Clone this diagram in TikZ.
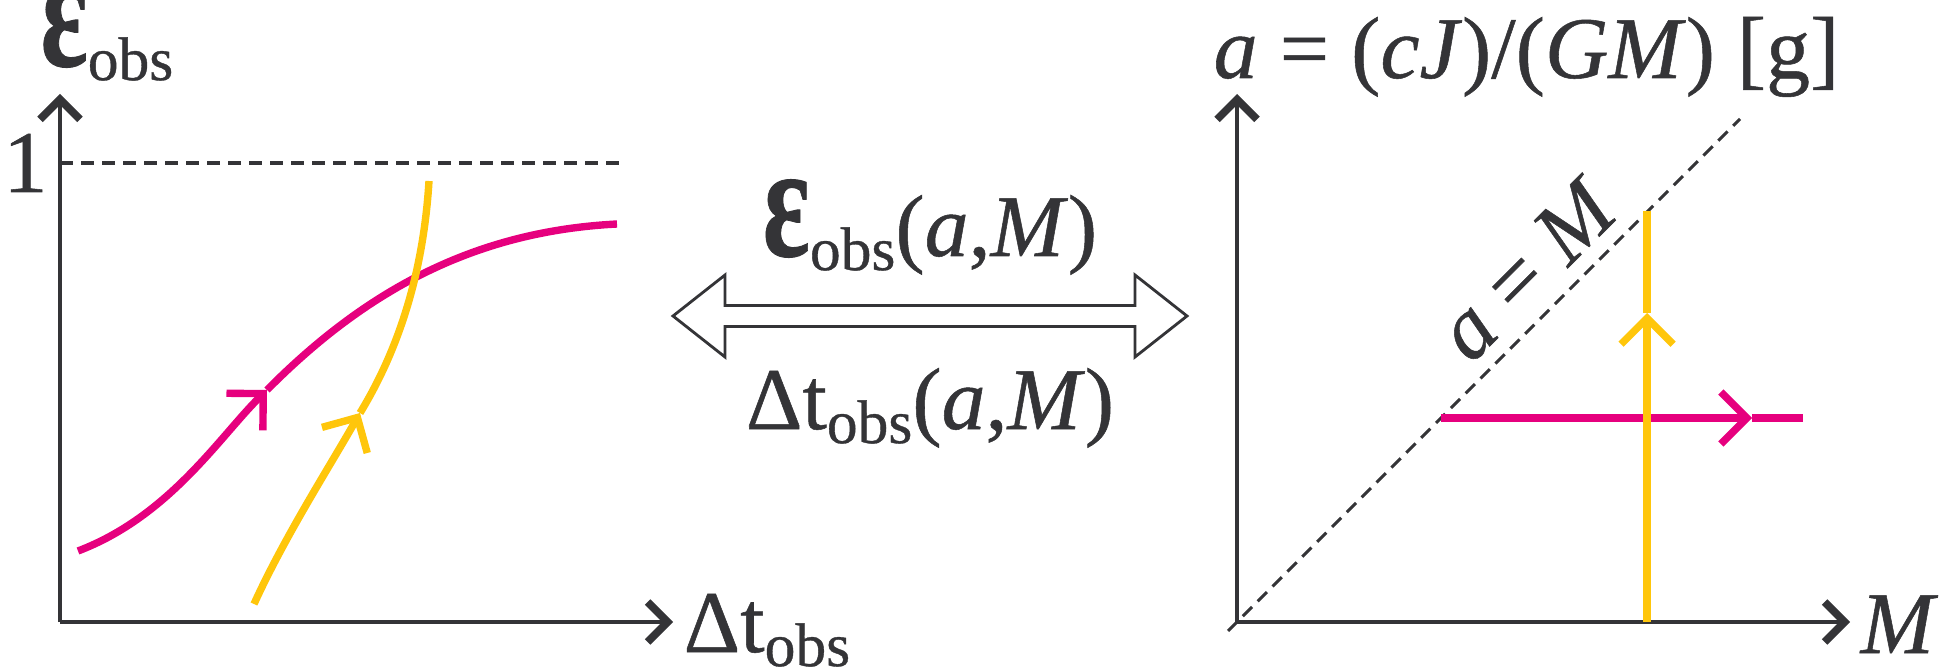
\documentclass[tikz,border=0pt]{standalone}
\usepackage{fontspec}
\setmainfont{Liberation Serif}[FakeBold=0.6]
\usetikzlibrary{arrows.meta}
\definecolor{tinta}{HTML}{343437}
\definecolor{rosa}{HTML}{E6007E}
\definecolor{oro}{HTML}{FFC60B}
\newcommand{\obs}{\raisebox{-0.16em}{\fontsize{17.5}{20}\selectfont obs}}
\newcommand{\epsi}{{\fontsize{33}{33}\selectfont\bfseries\scalebox{0.95}[1.4]{ε}}}

\tikzset{
  eje/.style={draw=tinta,line width=1pt,-{Straight Barb[length=0.2cm,width=0.4cm,line width=2.2pt]}},
  guia/.style={draw=tinta,line width=0.9pt,dash pattern=on 0.13cm off 0.08cm},
  curvarosa/.style={draw=rosa,line width=2.1pt},
  curvaoro/.style={draw=oro,line width=2.1pt},
  punta/.style={-{Straight Barb[length=0.26cm,width=0.52cm]}},
  rotulo/.style={inner sep=0pt,text=tinta,font=\fontsize{25}{30}\selectfont},
  hueca/.style={draw=tinta,line width=0.8pt,line join=miter}
}

\begin{document}
\begin{tikzpicture}[x=0.01cm,y=0.01cm]
\useasboundingbox (0,0) rectangle (1959,666);

% ejes
\coordinate (o1) at (60,44);
\coordinate (ytop1) at (60,572);
\coordinate (xend1) at (673,44);
\coordinate (o2) at (1237,44);
\coordinate (ytop2) at (1237,572);
\coordinate (xend2) at (1850,44);

\draw[guia] (60,503) coordinate (lim0) -- (626,503) coordinate (lim1);
\draw[guia] (1228,35) coordinate (d0) -- (1740,547) coordinate (d1);

\draw[eje] (o1) -- (ytop1);
\draw[eje] (o1) -- (xend1);
\draw[eje] (o2) -- (ytop2);
\draw[eje] (o2) -- (xend2);

% rotulos
\node[rotulo,anchor=base west] (epsilon) at (40,600) {\epsi\obs};
\node[rotulo,anchor=base east] (uno) at (48,474) {1};
\node[rotulo,anchor=base west] (deltat) at (683,14) {Δt\obs};
\node[rotulo,anchor=base west] (masa) at (1860,13) {\textit{M}};
\node[rotulo,anchor=base west] (espin) at (1213,588) {\textit{a} = (\textit{cJ})/(\textit{GM}) [g]};
\node[rotulo,rotate=45] (diag) at (1527,397) {\textit{a} = \textit{M}};
\node[rotulo,anchor=base] (arriba) at (930,410) {\epsi\obs(\textit{a},\textit{M})};
\node[rotulo,anchor=base] (abajo) at (930,237) {Δt\obs(\textit{a},\textit{M})};

% flecha doble
\coordinate (enlace) at (930,350);
\draw[hueca] (enlace) ++(-257,0) -- ++(52,41) -- ++(0,-30.5) -- ++(410,0) -- ++(0,30.5)
  -- ++(52,-41) -- ++(-52,-41) -- ++(0,30.5) -- ++(-410,0) -- ++(0,-30.5) -- cycle;

% curvas izquierda
\coordinate (m0) at (78,115);
\coordinate (m1) at (267,276);
\coordinate (m2) at (617,442);
\draw[curvarosa,punta] (m0) .. controls (170,150) and (220,230) .. (m1);
\draw[curvarosa] (m1) .. controls (370,380) and (480,435) .. (m2);
\coordinate (g0) at (254,62);
\coordinate (g1) at (360,253);
\coordinate (g2) at (429,485);
\draw[curvaoro,punta] (g0) .. controls (285,130) and (330,200) .. (g1);
\draw[curvaoro] (g1) .. controls (410,335) and (425,420) .. (g2);

% curvas derecha
\coordinate (r0) at (1441,248);
\coordinate (r1) at (1752,248);
\coordinate (r2) at (1803,248);
\draw[curvarosa,punta] (r0) -- (r1);
\draw[curvarosa] (r1) -- (r2);
\coordinate (v0) at (1647,44);
\coordinate (v1) at (1647,353);
\coordinate (v2) at (1647,455);
\draw[curvaoro,punta] (v0) -- (v1);
\draw[curvaoro] (v1) -- (v2);
\end{tikzpicture}
\end{document}
